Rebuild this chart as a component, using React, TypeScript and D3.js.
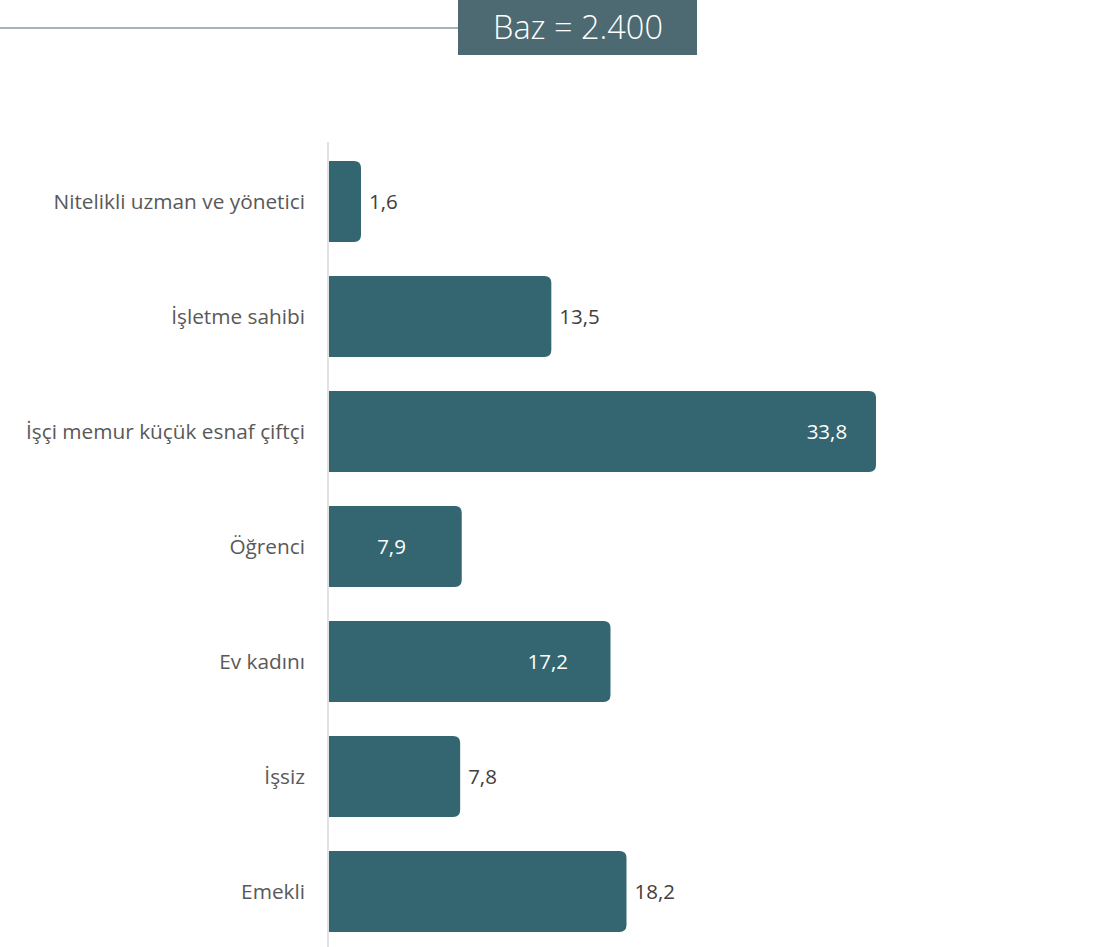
import React from "react";
import * as d3 from "d3";

const categories = [
  "Nitelikli uzman ve yönetici",
  "İşletme sahibi",
  "İşçi memur küçük esnaf çiftçi",
  "Öğrenci",
  "Ev kadını",
  "İşsiz",
  "Emekli",
];
const values = [1.6, 13.5, 33.8, 7.9, 17.2, 7.8, 18.2];
const labelInside = [false, false, true, true, true, false, false];
const baseText = "Baz = 2.400";

const W = 1107;
const H = 947;
const FONT = "'Open Sans', 'Noto Sans', sans-serif";
const BAR = "#336670";

export default function App() {
  const x = d3.scaleLinear().domain([0, 33.8]).range([335.4, 876]);
  const y = d3
    .scaleBand<string>()
    .domain(categories)
    .range([144, 144 + 115 * 7])
    .paddingInner(0.296)
    .paddingOuter(0.148);
  const barStart = 329;
  const r = 7;
  const fmt = (v: number) => v.toFixed(1).replace(".", ",");

  return (
    <svg width={W} height={H} style={{ position: "absolute", left: 0, top: 0 }}>
      <rect x={0} y={0} width={W} height={H} fill="#ffffff" />
      <line x1={0} x2={458} y1={28} y2={28} stroke="#4d6a72" strokeWidth={1.2} />
      <rect x={458} y={0} width={239} height={55} fill="#4d6a72" />
      <text
        x={578}
        y={39}
        textAnchor="middle"
        fill="#ffffff"
        fontFamily={FONT}
        fontWeight={300}
        fontSize={32.5}
      >
        {baseText}
      </text>
      {categories.map((c, i) => {
        const y0 = y(c)!;
        const h = y.bandwidth();
        const x1 = x(values[i]);
        const w = x1 - barStart;
        const path = `M${barStart},${y0} H${x1 - r} Q${x1},${y0} ${x1},${y0 + r} V${y0 + h - r} Q${x1},${y0 + h} ${x1 - r},${y0 + h} H${barStart} Z`;
        const cy = y0 + h / 2;
        const inside = labelInside[i];
        const lx = inside ? x1 - 77 + 0.051 * w : x1 + 8;
        return (
          <g key={c}>
            <path d={path} fill={BAR} />
            <text
              x={305}
              y={cy}
              dy="0.35em"
              textAnchor="end"
              fill="#595959"
              fontFamily={FONT}
              fontSize={20.8}
            >
              {c}
            </text>
            <text
              x={lx}
              y={cy}
              dy="0.35em"
              textAnchor={inside ? "middle" : "start"}
              fill={inside ? "#ffffff" : "#404040"}
              fontFamily={FONT}
              fontSize={20.5}
            >
              {fmt(values[i])}
            </text>
          </g>
        );
      })}
      <line x1={328} x2={328} y1={142} y2={947} stroke="#d9d9d9" strokeWidth={1.5} />
    </svg>
  );
}
